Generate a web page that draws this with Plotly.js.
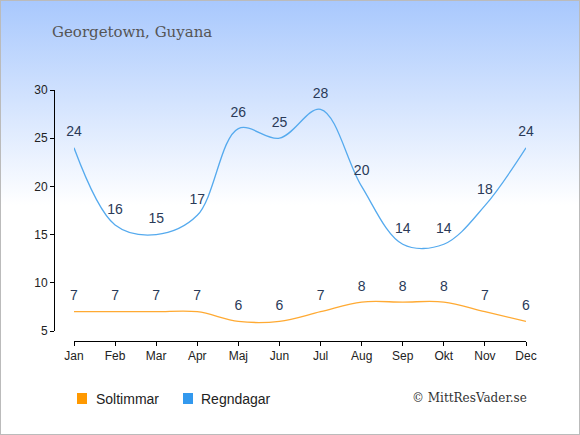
<!DOCTYPE html>
<html><head><meta charset="utf-8">
<script src="https://cdn.plot.ly/plotly-3.0.1.min.js"></script>
<style>
html,body{margin:0;padding:0;}
#chart{width:580px;height:435px;box-sizing:border-box;background:linear-gradient(to bottom,#a8c8fd 0px,#ffffff 205px);box-shadow:inset 0 0 0 1px #bbbbbb;}
</style></head><body>
<div id="chart"></div>
<script>
const months = ["Jan","Feb","Mar","Apr","Maj","Jun","Jul","Aug","Sep","Okt","Nov","Dec"];
const sunHours = [7,7,7,7,6,6,7,8,8,8,7,6];
const rainDays = [24,16,15,17,26,25,28,20,14,14,18,24];
const seriesNames = ["Soltimmar","Regndagar"];
const seriesColors = ["#ff9900","#3399ee"];
const lineColors = ["#ffaa33","#55aaee"];

const L=54, R=54, T=90, B=94, W=580, H=435;
const PW=W-L-R, PH=H-T-B;
const px = x => (x-L)/PW;
const py = y => (H-B-y)/PH;

function trace(vals, i){
  return {
    x: months, y: vals, type:'scatter', mode:'lines+markers+text',
    marker:{size:11, opacity:0, color:lineColors[i]},
    text: vals.map(String), textposition:'top center',
    textfont:{family:'Liberation Sans, Arial, sans-serif', size:14, color:'#2a3a58'},
    line:{color:lineColors[i], width:1.3, shape:'spline', smoothing:1},
    cliponaxis:false, showlegend:false, hoverinfo:'none', name:seriesNames[i]
  };
}

const shapes=[], annotations=[];
const legendPos=[[77,94],[183,199]];
seriesNames.forEach((n,i)=>{
  const [sx,tx]=legendPos[i];
  shapes.push({type:'rect', xref:'paper', yref:'paper', x0:px(sx), x1:px(sx+10), y0:py(404), y1:py(393),
    fillcolor:seriesColors[i], line:{width:0}});
  annotations.push({xref:'paper', yref:'paper', x:px(tx), y:py(398.5), xanchor:'left', yanchor:'middle',
    text:n, showarrow:false, font:{family:'Liberation Sans, Arial, sans-serif', size:14, color:'#222'}});
});
annotations.push({xref:'paper', yref:'paper', x:px(529), y:py(398), xanchor:'right', yanchor:'middle',
  text:'© MittResVader.se', showarrow:false, font:{family:'DejaVu Serif, serif', size:12, color:'#333'}});

const layout={
  width:W, height:H, margin:{l:L,r:R,t:T,b:B,pad:0},
  paper_bgcolor:'rgba(0,0,0,0)', plot_bgcolor:'rgba(0,0,0,0)',
  title:{text:'Georgetown, Guyana', xref:'container', yref:'container', x:52/W, xanchor:'left', y:1-32/H, yanchor:'middle',
    font:{family:'DejaVu Serif, serif', size:15, color:'#555'}},
  xaxis:{type:'category', range:[0,11], domain:[20/PW,1], anchor:'free', position:0,
    showline:true, linecolor:'#000', linewidth:1, ticks:'outside', ticklen:4, tickcolor:'#000',
    showgrid:false, zeroline:false, fixedrange:true,
    tickfont:{family:'Liberation Sans, Arial, sans-serif', size:12, color:'#222'}},
  yaxis:{range:[5,30], dtick:5, tick0:5, domain:[10/PH,1], anchor:'free', position:0,
    showline:true, linecolor:'#000', linewidth:1, ticks:'outside', ticklen:4, tickcolor:'#000',
    showgrid:false, zeroline:false, fixedrange:true,
    tickfont:{family:'Liberation Sans, Arial, sans-serif', size:12, color:'#222'}},
  shapes:shapes, annotations:annotations, showlegend:false
};
Plotly.newPlot('chart',[trace(sunHours,0),trace(rainDays,1)],layout,{displayModeBar:false,staticPlot:true});
</script>
</body></html>
